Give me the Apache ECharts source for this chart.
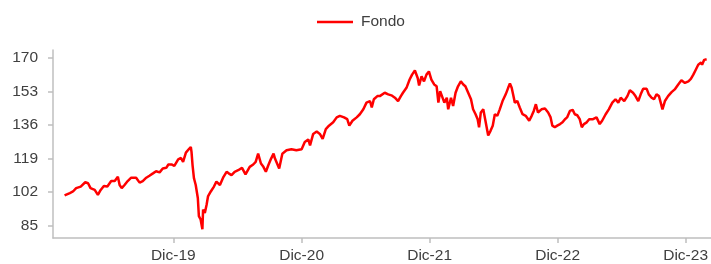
<!DOCTYPE html>
<html>
<head>
<meta charset="utf-8">
<script src="https://cdn.jsdelivr.net/npm/echarts@6/dist/echarts.min.js"></script>
<style>
  html, body { margin: 0; padding: 0; background: #fff; }
  #chart { width: 711px; height: 264px; }
</style>
</head>
<body>
<div id="chart"></div>
<script>
var seriesName = 'Fondo';

var dates = [
  '2019-02-24','2019-03-11','2019-03-20','2019-03-29','2019-04-11','2019-04-24','2019-05-02','2019-05-09',
  '2019-05-21','2019-05-30','2019-06-07','2019-06-16','2019-06-26','2019-07-07','2019-07-17','2019-07-26',
  '2019-07-31','2019-08-06','2019-08-14','2019-08-23','2019-09-02','2019-09-16','2019-09-26','2019-10-05',
  '2019-10-15','2019-10-24','2019-11-03','2019-11-12','2019-11-22','2019-12-01','2019-12-11','2019-12-17',
  '2019-12-26',
  '2020-01-03','2020-01-14','2020-01-22','2020-01-28','2020-02-05','2020-02-13','2020-02-19','2020-02-21',
  '2020-02-24','2020-02-28','2020-03-04','2020-03-10','2020-03-13','2020-03-18','2020-03-23','2020-03-25',
  '2020-03-30','2020-04-04','2020-04-08','2020-04-16','2020-04-25','2020-05-02','2020-05-12','2020-05-21',
  '2020-05-31','2020-06-06','2020-06-14','2020-06-23','2020-07-03','2020-07-14','2020-07-24','2020-08-05',
  '2020-08-15','2020-08-22','2020-08-29','2020-09-06','2020-09-13','2020-09-20','2020-09-27','2020-10-05',
  '2020-10-12','2020-10-16','2020-10-28','2020-11-06','2020-11-18','2020-12-02','2020-12-16','2020-12-31',
  '2021-01-09','2021-01-19','2021-01-24','2021-02-02','2021-02-12','2021-02-21','2021-03-01','2021-03-10',
  '2021-03-19','2021-03-31','2021-04-10','2021-04-19','2021-05-01','2021-05-10','2021-05-16','2021-05-25',
  '2021-06-06','2021-06-15','2021-06-25','2021-07-04','2021-07-14','2021-07-19','2021-07-25','2021-08-04',
  '2021-08-11','2021-08-25','2021-09-04','2021-09-13','2021-09-23','2021-10-02','2021-10-10','2021-10-16',
  '2021-10-26','2021-11-04','2021-11-11','2021-11-19','2021-11-27','2021-12-01','2021-12-08','2021-12-15',
  '2021-12-22','2021-12-29',
  '2022-01-05','2022-01-13','2022-01-20','2022-01-25','2022-01-30','2022-02-03','2022-02-11','2022-02-18',
  '2022-02-22','2022-03-02','2022-03-08','2022-03-15','2022-03-22','2022-03-30','2022-04-06','2022-04-12',
  '2022-04-20','2022-04-28','2022-05-04','2022-05-11','2022-05-17','2022-05-21','2022-05-26','2022-06-02',
  '2022-06-09','2022-06-16','2022-06-23','2022-06-29','2022-07-05','2022-07-12','2022-07-19','2022-07-27',
  '2022-08-05','2022-08-12','2022-08-17','2022-08-22','2022-08-26','2022-08-31','2022-09-07','2022-09-14',
  '2022-09-22','2022-10-01','2022-10-11','2022-10-18','2022-10-24','2022-10-30','2022-11-05','2022-11-15',
  '2022-11-25','2022-12-04','2022-12-11','2022-12-16','2022-12-23','2022-12-30',
  '2023-01-07','2023-01-14','2023-01-21','2023-01-27','2023-02-04','2023-02-12','2023-02-18','2023-02-25',
  '2023-03-04','2023-03-10','2023-03-16','2023-03-24','2023-03-31','2023-04-11','2023-04-21','2023-04-30',
  '2023-05-07','2023-05-17','2023-05-26','2023-06-05','2023-06-14','2023-06-22','2023-06-29','2023-07-09',
  '2023-07-18','2023-07-25','2023-08-03','2023-08-10','2023-08-18','2023-08-25','2023-09-01','2023-09-11',
  '2023-09-17','2023-09-25','2023-10-02','2023-10-09','2023-10-16','2023-10-21','2023-10-26','2023-11-02',
  '2023-11-11','2023-11-21','2023-11-30','2023-12-10','2023-12-19','2023-12-29',
  '2024-01-08','2024-01-15','2024-01-22','2024-01-29','2024-02-05','2024-02-13','2024-02-16','2024-02-22',
  '2024-02-29'
];

var fondo = [
  100.2,101.4,102.2,103.9,104.7,106.9,106.4,103.9,
  103.0,100.5,103.0,105.0,104.7,107.5,107.5,109.7,
  105.5,103.9,105.5,107.5,109.2,109.2,106.7,107.5,
  109.2,110.2,111.4,112.5,111.9,113.9,114.2,115.9,
  115.9,
  115.2,118.5,119.2,117.2,121.9,123.6,124.8,122.3,
  115.5,108.9,105.5,98.9,89.7,88.0,83.0,93.0,
  91.3,95.5,99.7,102.2,104.7,107.2,105.5,109.2,
  112.2,111.4,110.5,112.2,113.0,114.2,110.9,114.7,
  115.9,117.2,121.4,116.4,114.7,112.2,115.5,118.9,
  121.4,118.9,113.9,121.4,123.1,123.6,123.1,123.6,
  127.3,128.6,125.6,131.4,132.6,131.4,128.9,133.9,
  135.6,137.3,139.8,140.6,139.8,138.9,135.6,138.1,
  139.8,141.4,143.9,147.3,148.1,144.8,149.0,150.6,
  150.6,152.3,151.5,151.0,149.8,148.1,150.6,152.3,
  154.8,159.0,161.5,163.6,159.8,156.0,160.6,158.1,
  161.5,163.1,
  159.0,156.5,155.6,147.3,153.1,152.3,147.3,149.8,
  143.9,149.8,145.6,152.3,155.6,158.1,156.5,155.6,
  152.3,149.0,143.9,141.4,138.9,134.8,142.3,143.9,
  137.3,130.6,133.1,135.6,141.4,140.6,143.9,148.1,
  151.5,154.8,157.0,154.8,151.5,147.3,148.1,144.8,
  141.4,140.6,138.1,140.6,143.1,146.5,142.3,143.9,
  144.3,142.3,139.8,135.6,134.8,135.6,
  136.4,137.3,138.9,139.8,143.1,143.6,141.4,140.9,
  138.9,134.8,136.4,137.3,138.9,138.9,139.8,136.4,
  138.1,141.4,143.9,147.3,149.0,147.3,149.8,148.1,
  150.6,153.6,152.3,150.6,148.1,151.5,154.3,154.3,
  151.5,149.8,149.0,151.5,150.6,147.3,143.9,148.1,
  150.6,152.6,154.0,156.5,158.6,157.3,
  158.1,159.3,161.5,164.0,166.5,167.6,166.5,169.0,
  169.3
];

var xTicks = ['2019-12-31', '2020-12-31', '2021-12-31', '2022-12-31', '2023-12-31'];
var yTicks = [85, 102, 119, 136, 153, 170];

function toTime(s) {
    var p = s.split('-');
    return new Date(+p[0], +p[1] - 1, +p[2]).getTime();
}

var points = [];
for (var i = 0; i < dates.length; i++) {
    points.push([toTime(dates[i]), fondo[i]]);
}
var xTickTimes = xTicks.map(toTime);

var axisColor = '#bfbfbf';
var textColor = '#404040';
var font = 'Liberation Sans, Arial, sans-serif';

var chart = echarts.init(document.getElementById('chart'));
chart.setOption({
    animation: false,
    textStyle: { fontFamily: font },
    legend: {
        top: 9,
        left: 312,
        icon: 'rect',
        itemWidth: 36,
        itemHeight: 2.5,
        textStyle: { color: textColor, fontSize: 15.5, fontFamily: font, padding: [0, 0, 0, 3] },
        data: [seriesName]
    },
    grid: { left: 53, right: 0, top: 50, bottom: 23.5, containLabel: false },
    // dates kept as timestamps on a value axis so the Dec ticks can be placed exactly
    xAxis: {
        type: 'value',
        min: toTime('2019-01-22'),
        max: toTime('2024-03-12'),
        splitLine: { show: false },
        axisLine: { lineStyle: { color: axisColor, width: 1.5 } },
        axisTick: { show: true, length: 5, lineStyle: { color: axisColor, width: 1.5 }, customValues: xTickTimes },
        axisLabel: {
            customValues: xTickTimes,
            margin: 10,
            color: textColor,
            fontSize: 15.5,
            fontFamily: font,
            formatter: function (v) {
                var d = new Date(v);
                return 'Dic-' + String(d.getFullYear()).slice(2);
            }
        }
    },
    yAxis: {
        type: 'value',
        min: 78.6,
        max: 174,
        splitLine: { show: false },
        axisLine: { show: true, lineStyle: { color: axisColor, width: 1.5 } },
        axisTick: { show: true, length: 5, lineStyle: { color: axisColor, width: 1.5 }, customValues: yTicks },
        axisLabel: {
            customValues: yTicks,
            margin: 15,
            color: textColor,
            fontSize: 15.5,
            fontFamily: font
        }
    },
    series: [{
        name: seriesName,
        type: 'line',
        data: points,
        showSymbol: false,
        symbol: 'none',
        lineStyle: { color: '#ff0000', width: 2.5 },
        itemStyle: { color: '#ff0000' }
    }]
});
</script>
</body>
</html>
